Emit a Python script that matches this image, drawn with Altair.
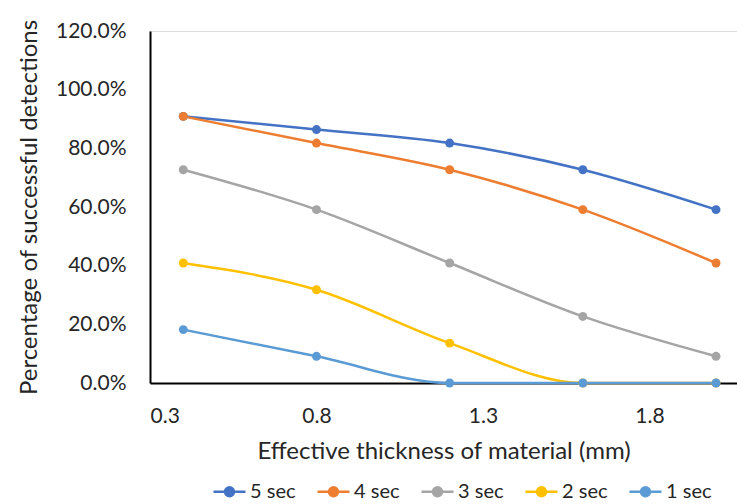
import altair as alt
import pandas as pd

thickness = [0.4, 0.8, 1.2, 1.6, 2.0]
series_names = ["5 sec", "4 sec", "3 sec", "2 sec", "1 sec"]
sec5 = [0.909, 0.864, 0.818, 0.727, 0.591]
sec4 = [0.909, 0.818, 0.727, 0.591, 0.409]
sec3 = [0.727, 0.591, 0.409, 0.227, 0.091]
sec2 = [0.409, 0.318, 0.136, 0.0, 0.0]
sec1 = [0.182, 0.091, 0.0, 0.0, 0.0]
colors = ["#4472C4", "#ED7D31", "#A5A5A5", "#FFC000", "#5B9BD5"]
x_ticks = [0.3, 0.8, 1.3, 1.8]
y_ticks = [0.0, 0.2, 0.4, 0.6, 0.8, 1.0, 1.2]

rows = []
for name, vals in zip(series_names, [sec5, sec4, sec3, sec2, sec1]):
    for t, v in zip(thickness, vals):
        rows.append({"thickness": t, "pct": v, "series": name})
df = pd.DataFrame(rows)

FONT = "Lato"
TXT = "#262626"

color_scale = alt.Scale(domain=series_names, range=colors)
legend = alt.Legend(
    title=None,
    orient="none",
    direction="horizontal",
    legendX=62,
    legendY=443,
    symbolType="M-1,0L1,0M-0.28,0A0.28,0.28,0,1,1,0.28,0A0.28,0.28,0,1,1,-0.28,0Z",
    symbolSize=1024,
    symbolStrokeWidth=2.5,
    symbolOpacity=1,
    labelFont=FONT,
    labelFontSize=20,
    labelColor=TXT,
    labelOffset=3,
    columnPadding=16,
)

x_enc = alt.X(
    "thickness:Q",
    scale=alt.Scale(domain=[0.3, 2.063], nice=False, zero=False),
    axis=alt.Axis(
        values=x_ticks,
        format=".1f",
        title="Effective thickness of material (mm)",
        grid=False,
        ticks=False,
        tickSize=0,
        labelPadding=22,
        labelFont=FONT,
        labelFontSize=21,
        labelColor=TXT,
        labelFontWeight="normal",
        titleFont=FONT,
        titleFontSize=24,
        titleFontWeight="normal",
        titleColor=TXT,
        titlePadding=13,
        domainColor="#000000",
        domainWidth=2,
    ),
)
y_enc = alt.Y(
    "pct:Q",
    scale=alt.Scale(domain=[0, 1.2], nice=False),
    axis=alt.Axis(
        values=y_ticks,
        format=".1%",
        title="Percentage of successful detections",
        grid=False,
        ticks=False,
        tickSize=0,
        labelPadding=24,
        labelFont=FONT,
        labelFontSize=21,
        labelColor=TXT,
        titleFont=FONT,
        titleFontSize=24,
        titleFontWeight="normal",
        titleColor=TXT,
        titlePadding=14,
        domainColor="#000000",
        domainWidth=2,
    ),
)
c_enc = alt.Color("series:N", scale=color_scale, sort=series_names, legend=legend)

base = alt.Chart(df)
lines = base.mark_line(interpolate="monotone", strokeWidth=2.5).encode(
    x=x_enc, y=y_enc, color=c_enc, detail="series:N"
)
points = base.mark_point(filled=True, size=80, opacity=1).encode(
    x=x_enc, y=y_enc, color=c_enc
)

chart = (
    alt.layer(lines, points)
    .properties(
        width=587,
        height=352,
        autosize=alt.AutoSizeParams(type="none"),
        padding={"left": 150, "top": 31, "right": 0, "bottom": 121},
    )
    .configure_view(stroke=None)
    .configure(background="white")
)

chart.save("out.html", embed_options={"renderer": "svg", "actions": False})
